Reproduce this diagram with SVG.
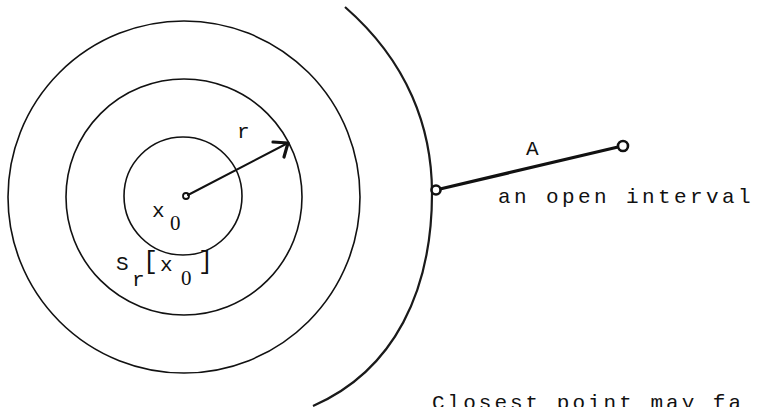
<svg xmlns="http://www.w3.org/2000/svg" width="758" height="407" viewBox="0 0 758 407">
  <style>
    .ring { fill: none; stroke: #111; stroke-width: 1.6; }
    .bound { fill: none; stroke: #1a1a1a; stroke-width: 2.2; }
    .t { font-family: "Liberation Mono", "Courier New", monospace; font-size: 21px; fill: #111; }
    .d { font-family: "Liberation Serif", "Times New Roman", serif; font-size: 21px; fill: #111; }
    .br { font-family: "Liberation Mono", "Courier New", monospace; font-size: 25px; fill: #111; }
    .conn { fill: none; stroke: #111; stroke-linecap: round; stroke-linejoin: round; }
    .end { fill: #fff; stroke: #111; stroke-width: 2.6; }
  </style>
  <rect width="758" height="407" fill="#fff"/>

  <g id="ball-outer">
    <circle class="ring" cx="184" cy="197" r="176"/>
  </g>
  <g id="ball-middle">
    <circle class="ring" cx="184" cy="197" r="118"/>
  </g>
  <g id="ball-inner">
    <circle class="ring" cx="183" cy="196" r="59"/>
  </g>
  <g id="center-x0">
    <circle cx="186" cy="196" r="3" fill="#fff" stroke="#111" stroke-width="1.8"/>
    <text class="t" x="152" y="217">x</text>
    <text class="d" x="170" y="230">0</text>
  </g>
  <g id="label-r">
    <text class="t" x="237" y="138">r</text>
  </g>
  <g id="label-sphere">
    <text class="t" x="116" y="270">S</text>
    <text class="t" x="132" y="286">r</text>
    <text class="br" x="143" y="269">[</text>
    <text class="t" x="160" y="271">x</text>
    <text class="d" x="181" y="285">0</text>
    <text class="br" x="198" y="269">]</text>
  </g>

  <g id="boundary">
    <path class="bound" d="M345,7 C408,62 432,128 432,193 C432,290 395,370 313,406"/>
  </g>

  <g id="connectors">
    <path class="conn" stroke-width="2" d="M188,195 L286,144"/>
    <path class="conn" stroke-width="3.2" d="M273,142 L288,143 L284,157"/>
    <path class="conn" stroke-width="3.2" d="M440,189 L618,147"/>
    <circle class="end" cx="436" cy="190" r="4.5"/>
    <circle class="end" cx="623" cy="146" r="5"/>
  </g>

  <g id="label-A">
    <text class="t" x="526" y="155">A</text>
    <text class="t" x="498" y="203" style="letter-spacing:3.4px">an open interval</text>
  </g>

  <g id="caption">
    <text class="t" x="432" y="409" style="letter-spacing:3px">Closest point may fa</text>
  </g>
</svg>
